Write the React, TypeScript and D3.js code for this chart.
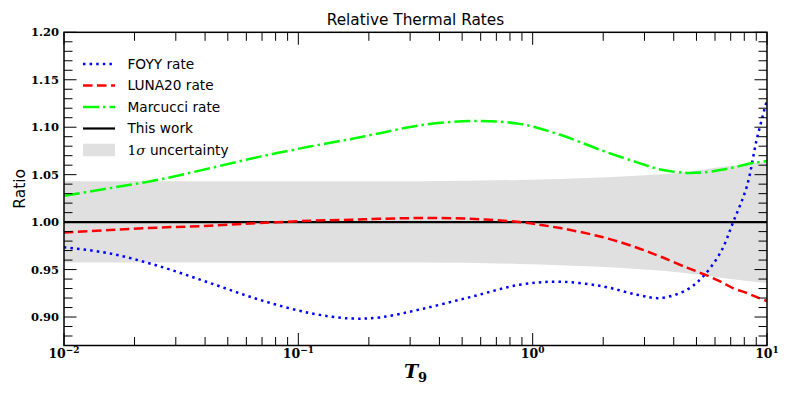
import React from "react";
import * as d3 from "d3";

// ---- data ----
const T9 = [0.01, 0.0157, 0.0257, 0.042, 0.0687, 0.112, 0.166, 0.223, 0.33, 0.541, 0.88, 1.31, 2.0, 2.79, 3.5, 4.55, 5.33, 6.31, 7.16, 8.2, 9.04, 10];
const foyy = [0.9735, 0.967, 0.9533, 0.9358, 0.918, 0.9042, 0.8985, 0.8996, 0.908, 0.921, 0.934, 0.9372, 0.9322, 0.9235, 0.92, 0.9287, 0.9427, 0.9673, 0.9995, 1.0375, 1.087, 1.1287];
const luna20 = [0.989, 0.9917, 0.9943, 0.9962, 0.999, 1.0014, 1.0025, 1.0035, 1.0043, 1.0035, 1.0, 0.9937, 0.984, 0.973, 0.9638, 0.952, 0.9455, 0.9375, 0.9305, 0.9253, 0.921, 0.9168];
const marcucci = [1.0277, 1.0358, 1.045, 1.0568, 1.069, 1.0796, 1.0874, 1.0937, 1.102, 1.1065, 1.1035, 1.092, 1.075, 1.063, 1.0555, 1.0518, 1.0524, 1.0548, 1.0575, 1.061, 1.0628, 1.0645];
const bandT9 = [0.01, 0.1, 0.33, 0.88, 1.94, 3.0, 4.26, 5.18, 7.0, 10];
const bandUpper = [1.043, 1.043, 1.0431, 1.0445, 1.047, 1.0495, 1.052, 1.055, 1.059, 1.0638];
const bandLower = [0.9575, 0.9575, 0.9575, 0.956, 0.953, 0.95, 0.947, 0.9445, 0.94, 0.9358];
const yTicks = [0.9, 0.95, 1.0, 1.05, 1.1, 1.15, 1.2];
const xTickExps = [-2, -1, 0, 1];
const legendLabels = ["FOYY rate", "LUNA20 rate", "Marcucci rate", "This work", "uncertainty"];

const W = 789, H = 395;
const L = 64, R = 767, T = 32.3, B = 345.5;

export default function App() {
  const x = d3.scaleLog().domain([0.01, 10]).range([L, R]);
  const y = d3.scaleLinear().domain([0.87, 1.2]).range([B, T]);

  const line = (vals: number[]) =>
    d3.line<number>().x((_, i) => x(T9[i])).y((v) => y(v)).curve(d3.curveCatmullRom.alpha(0.5))(vals) as string;
  const area = d3
    .area<number>()
    .x((_, i) => x(bandT9[i]))
    .y0((_, i) => y(bandLower[i]))
    .y1((v) => y(v))
    .curve(d3.curveMonotoneX)(bandUpper) as string;

  const majorX = xTickExps.map((e) => Math.pow(10, e));
  const minorX: number[] = [];
  for (let e = -2; e < 1; e++) for (let k = 2; k <= 9; k++) minorX.push(k * Math.pow(10, e));
  const minorY: number[] = [];
  for (let i = 88; i <= 120; i++) {
    const v = i / 100;
    if (i % 5 !== 0) minorY.push(v);
  }

  const tickFont = { fontFamily: "DejaVu Serif", fontWeight: 700, fontSize: 11.5 } as const;
  const sansFont = "DejaVu Sans";
  const legY = [64, 85.5, 107, 128.5, 150];
  const legX0 = 83, legX1 = 115, legTX = 127.5;

  return (
    <svg width={W} height={H} style={{ position: "absolute", left: 0, top: 0, background: "#fff" }}>
      <defs>
        <clipPath id="plot">
          <rect x={L} y={T} width={R - L} height={B - T} />
        </clipPath>
      </defs>
      <rect x={0} y={0} width={W} height={H} fill="#fff" />
      <g clipPath="url(#plot)">
        <path d={area} fill="#e0e0e0" />
        <line x1={L} x2={R} y1={y(1)} y2={y(1)} stroke="#000" strokeWidth={2.2} />
        <path d={line(foyy)} fill="none" stroke="#0000ff" strokeWidth={2.5} strokeDasharray="2.5 4.1" />
        <path d={line(luna20)} fill="none" stroke="#ff0000" strokeWidth={2.5} strokeDasharray="9.5 4.5" />
        <path d={line(marcucci)} fill="none" stroke="#00ff00" strokeWidth={2.5} strokeDasharray="16 4 2.5 4" />
      </g>
      {/* ticks */}
      <g stroke="#000" strokeWidth={1}>
        {majorX.map((v) => (
          <g key={"mx" + v}>
            <line x1={x(v)} x2={x(v)} y1={B} y2={B - 12.5} />
            <line x1={x(v)} x2={x(v)} y1={T} y2={T + 12.5} />
          </g>
        ))}
        {minorX.map((v) => (
          <g key={"nx" + v}>
            <line x1={x(v)} x2={x(v)} y1={B} y2={B - 8.5} />
            <line x1={x(v)} x2={x(v)} y1={T} y2={T + 8.5} />
          </g>
        ))}
        {yTicks.map((v) => (
          <g key={"my" + v}>
            <line x1={L} x2={L + 12.5} y1={y(v)} y2={y(v)} />
            <line x1={R} x2={R - 12.5} y1={y(v)} y2={y(v)} />
          </g>
        ))}
        {minorY.map((v) => (
          <g key={"ny" + v}>
            <line x1={L} x2={L + 8.5} y1={y(v)} y2={y(v)} />
            <line x1={R} x2={R - 8.5} y1={y(v)} y2={y(v)} />
          </g>
        ))}
      </g>
      <rect x={L} y={T} width={R - L} height={B - T} fill="none" stroke="#000" strokeWidth={1.5} />
      {/* tick labels */}
      {yTicks.map((v) => (
        <text key={"yl" + v} x={59} y={y(v)} dy="0.36em" textAnchor="end" style={tickFont}>
          {v.toFixed(2)}
        </text>
      ))}
      {xTickExps.map((e) => (
        <text key={"xl" + e} x={x(Math.pow(10, e))} y={358} textAnchor="middle" style={{ ...tickFont, fontSize: 12.5 }}>
          10
          <tspan dy={-5.5} fontSize={9}>
            {e < 0 ? "\u2212" + Math.abs(e) : String(e)}
          </tspan>
        </text>
      ))}
      {/* axis titles */}
      <text x={(L + R) / 2} y={25} textAnchor="middle" fontFamily={sansFont} fontSize={15.3}>
        Relative Thermal Rates
      </text>
      <text
        transform={`translate(25,${(T + B) / 2}) rotate(-90)`}
        textAnchor="middle"
        fontFamily={sansFont}
        fontSize={15.5}
      >
        Ratio
      </text>
      <text x={(L + R) / 2} y={378} textAnchor="middle" fontFamily="DejaVu Serif" fontWeight={700} fontSize={19}>
        <tspan fontStyle="italic">T</tspan>
        <tspan fontSize={13} dy={4}>9</tspan>
      </text>
      {/* legend */}
      <g>
        <line x1={legX0} x2={legX1} y1={legY[0]} y2={legY[0]} stroke="#0000ff" strokeWidth={2.5} strokeDasharray="2.5 4.1" />
        <line x1={legX0} x2={legX1} y1={legY[1]} y2={legY[1]} stroke="#ff0000" strokeWidth={2.5} strokeDasharray="9.5 4.5" />
        <line x1={legX0} x2={legX1} y1={legY[2]} y2={legY[2]} stroke="#00ff00" strokeWidth={2.5} strokeDasharray="16 4 2.5 4" />
        <line x1={legX0} x2={legX1} y1={legY[3]} y2={legY[3]} stroke="#000" strokeWidth={2.2} />
        <rect x={legX0} y={legY[4] - 6.3} width={legX1 - legX0} height={12.6} fill="#e0e0e0" />
        {legendLabels.map((s, i) => (
          <text key={s} x={legTX} y={legY[i]} dy="0.36em" fontFamily={sansFont} fontSize={13.7}>
            {i === 4 ? (
              <>
                <tspan fontFamily="DejaVu Serif">1</tspan>
                <tspan fontFamily="DejaVu Serif" fontStyle="italic">{"\u03C3"}</tspan>
                <tspan>{" " + s}</tspan>
              </>
            ) : (
              s
            )}
          </text>
        ))}
      </g>
    </svg>
  );
}
